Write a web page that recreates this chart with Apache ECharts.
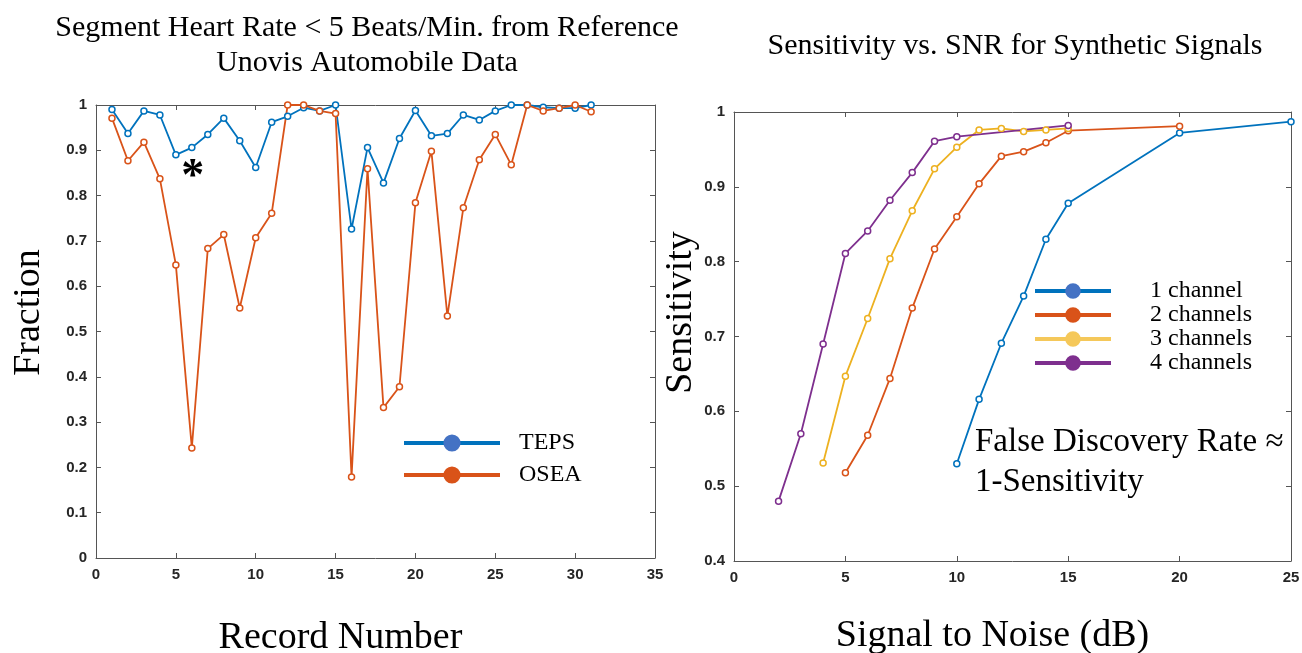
<!DOCTYPE html>
<html>
<head>
<meta charset="utf-8">
<script src="https://cdn.jsdelivr.net/npm/echarts@6/dist/echarts.min.js"></script>
<style>
html,body{margin:0;padding:0;background:#fff;overflow:hidden;}
#main{width:1302px;height:653px;}
</style>
</head>
<body>
<div id="main"></div>
<script>
// ---- Left chart data ----
const records = [1,2,3,4,5,6,7,8,9,10,11,12,13,14,15,16,17,18,19,20,21,22,23,24,25,26,27,28,29,30,31];
const teps = [0.990,0.937,0.987,0.978,0.890,0.906,0.935,0.971,0.921,0.862,0.962,0.975,0.994,0.987,1.000,0.726,0.906,0.828,0.926,0.988,0.932,0.937,0.978,0.967,0.987,1.000,1.000,0.995,0.993,0.993,1.000];
const osea = [0.971,0.877,0.918,0.837,0.647,0.243,0.683,0.714,0.552,0.707,0.761,1.000,1.000,0.987,0.981,0.179,0.859,0.332,0.378,0.784,0.898,0.534,0.773,0.879,0.935,0.868,1.000,0.987,0.993,1.000,0.985];

// ---- Right chart data ----
const snr1 = [10,11,12,13,14,15,20,25];
const sens1 = [0.530,0.616,0.691,0.754,0.830,0.878,0.972,0.987];
const snr2 = [5,6,7,8,9,10,11,12,13,14,15,20];
const sens2 = [0.518,0.568,0.644,0.738,0.817,0.860,0.904,0.941,0.947,0.959,0.975,0.981];
const snr3 = [4,5,6,7,8,9,10,11,12,13,14,15];
const sens3 = [0.531,0.647,0.724,0.804,0.868,0.924,0.953,0.976,0.978,0.974,0.976,0.978];
const snr4 = [2,3,4,5,6,7,8,9,10,15];
const sens4 = [0.480,0.570,0.690,0.811,0.841,0.882,0.919,0.961,0.967,0.982];

const leftXTicks = {min:0, max:35, interval:5};
const leftYTicks = {min:0, max:1, interval:0.1};
const rightXTicks = {min:0, max:25, interval:5};
const rightYTicks = {min:0.4, max:1, interval:0.1};

const C1 = '#0072BD', C2 = '#D95319', C3 = '#EDB120', C4 = '#7E2F8E';
const SERIF = 'Liberation Serif, Times New Roman, serif';
const SANS = 'Liberation Sans Narrow, Liberation Sans, Arial, sans-serif';

function zip(a,b){ return a.map((v,i)=>[v,b[i]]); }

const axisLineStyle = {color:'#555', width:1};
const tickLabel = {color:'#262626', fontFamily:SANS, fontWeight:'bold', fontSize:15, margin:9};
function fmt(v){ return String(+v.toFixed(1)); }

function mainX(grid, t, name, gap, pad){
  return {type:'value', gridIndex:grid, min:t.min, max:t.max, interval:t.interval, position:'bottom',
    axisLine:{show:true, onZero:false, lineStyle:axisLineStyle},
    axisTick:{show:true, inside:true, length:5, lineStyle:axisLineStyle},
    axisLabel:Object.assign({formatter:fmt}, tickLabel),
    splitLine:{show:false},
    name:name, nameLocation:'middle', nameGap:gap,
    nameTextStyle:{fontFamily:SERIF, fontSize:38, color:'#000', padding:pad}};
}
function mainY(grid, t, name, gap, pad){
  return {type:'value', gridIndex:grid, min:t.min, max:t.max, interval:t.interval, position:'left',
    axisLine:{show:true, onZero:false, lineStyle:axisLineStyle},
    axisTick:{show:true, inside:true, length:5, lineStyle:axisLineStyle},
    axisLabel:Object.assign({formatter:fmt}, tickLabel),
    splitLine:{show:false},
    name:name, nameLocation:'middle', nameGap:gap,
    nameTextStyle:{fontFamily:SERIF, fontSize:38, color:'#000', padding:pad}};
}
function boxX(grid, t){
  return {type:'value', gridIndex:grid, min:t.min, max:t.max, interval:t.interval, position:'top',
    axisLine:{show:true, onZero:false, lineStyle:axisLineStyle},
    axisTick:{show:true, inside:true, length:5, lineStyle:axisLineStyle},
    axisLabel:{show:false}, splitLine:{show:false}};
}
function boxY(grid, t){
  return {type:'value', gridIndex:grid, min:t.min, max:t.max, interval:t.interval, position:'right',
    axisLine:{show:true, onZero:false, lineStyle:axisLineStyle},
    axisTick:{show:true, inside:true, length:5, lineStyle:axisLineStyle},
    axisLabel:{show:false}, splitLine:{show:false}};
}

function lineSeries(name, color, xi, yi, data, extra){
  return Object.assign({
    name:name, type:'line', xAxisIndex:xi, yAxisIndex:yi, data:data,
    symbol:'circle', symbolSize:6, showSymbol:true,
    lineStyle:{color:color, width:1.8},
    itemStyle:{color:'#fff', borderColor:color, borderWidth:1.5},
    emphasis:{disabled:true}, animation:false
  }, extra||{});
}

const chart = echarts.init(document.getElementById('main'), null, {renderer:'canvas'});
chart.setOption({
  backgroundColor:'#fff',
  animation:false,
  title:[
    {text:'Segment Heart Rate < 5 Beats/Min. from Reference\nUnovis Automobile Data', left:362, top:6, textAlign:'center',
     textStyle:{fontFamily:SERIF, fontSize:30, fontWeight:'normal', color:'#000', lineHeight:35}},
    {text:'Sensitivity vs. SNR for Synthetic Signals', left:1010, top:26, textAlign:'center',
     textStyle:{fontFamily:SERIF, fontSize:30, fontWeight:'normal', color:'#000'}},
    {text:'False Discovery Rate \u2248\n1-Sensitivity', left:970, top:417,
     textStyle:{fontFamily:SERIF, fontSize:33, fontWeight:'normal', color:'#000', lineHeight:40}}
  ],
  grid:[
    {left:96, top:105, width:559, height:453, outerBoundsMode:'none', containLabel:false},
    {left:734, top:112, width:557, height:449, outerBoundsMode:'none', containLabel:false}
  ],
  xAxis:[
    mainX(0, leftXTicks, 'Record Number', 61, [0,70,0,0]),
    boxX(0, leftXTicks),
    mainX(1, rightXTicks, 'Signal to Noise (dB)', 56, [0,40,0,0]),
    boxX(1, rightXTicks)
  ],
  yAxis:[
    mainY(0, leftYTicks, 'Fraction', 48, [0,0,0,38]),
    boxY(0, leftYTicks),
    mainY(1, rightYTicks, 'Sensitivity', 34, [0,0,0,48]),
    boxY(1, rightYTicks)
  ],
  legend:[
    {orient:'vertical', left:397, top:426, itemWidth:96, itemHeight:19, itemGap:8,
     data:[
       {name:'TEPS', itemStyle:{color:'#4472C4', borderColor:'#4472C4'}, lineStyle:{color:C1, width:4}},
       {name:'OSEA', itemStyle:{color:C2, borderColor:C2}, lineStyle:{color:C2, width:4}}
     ],
     textStyle:{fontFamily:SERIF, fontSize:24, color:'#000', padding:[0,0,0,14]}},
    {orient:'vertical', left:1028, top:274, itemWidth:76, itemHeight:17, itemGap:0,
     data:[
       {name:'1 channel', itemStyle:{color:'#4472C4', borderColor:'#4472C4'}, lineStyle:{color:C1, width:4}},
       {name:'2 channels', itemStyle:{color:C2, borderColor:C2}, lineStyle:{color:C2, width:4}},
       {name:'3 channels', itemStyle:{color:'#F5C85A', borderColor:'#F5C85A'}, lineStyle:{color:'#F5C85A', width:4}},
       {name:'4 channels', itemStyle:{color:C4, borderColor:C4}, lineStyle:{color:C4, width:4}}
     ],
     textStyle:{fontFamily:SERIF, fontSize:24, color:'#000', padding:[0,0,0,34]}}
  ],
  series:[
    lineSeries('TEPS', C1, 0, 0, zip(records, teps), {
      markPoint:{symbol:'circle', symbolSize:1, itemStyle:{color:'rgba(0,0,0,0)', borderWidth:0},
        label:{show:true, formatter:'*', fontFamily:SERIF, fontSize:46, fontWeight:'bold', color:'#000', offset:[1,10]},
        data:[{coord:[6, 0.86]}]}
    }),
    lineSeries('OSEA', C2, 0, 0, zip(records, osea)),
    lineSeries('1 channel', C1, 2, 2, zip(snr1, sens1)),
    lineSeries('2 channels', C2, 2, 2, zip(snr2, sens2)),
    lineSeries('3 channels', C3, 2, 2, zip(snr3, sens3)),
    lineSeries('4 channels', C4, 2, 2, zip(snr4, sens4))
  ]
});
</script>
</body>
</html>
